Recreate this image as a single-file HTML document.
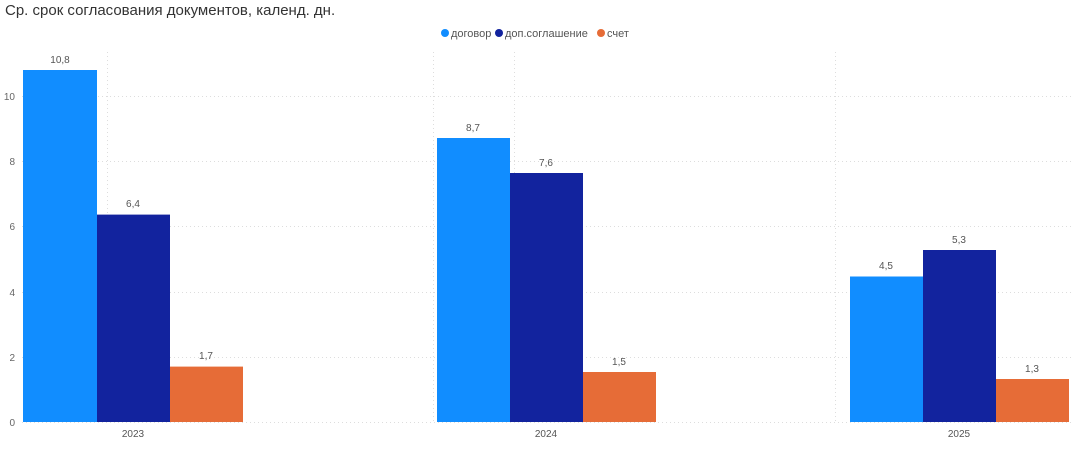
<!DOCTYPE html>
<html><head><meta charset="utf-8"><style>
body{margin:0;background:#fff;width:1073px;height:447px;overflow:hidden}
svg text{font-family:"Liberation Sans",sans-serif}
</style></head><body>
<svg width="1073" height="447" xmlns="http://www.w3.org/2000/svg">
<text x="5" y="15" font-size="15" fill="#333">Ср. срок согласования документов, календ. дн.</text>
<circle cx="445" cy="33" r="4" fill="#118dff"/><text x="451" y="37" font-size="11" fill="#555">договор</text>
<circle cx="499" cy="33" r="4" fill="#12239e"/><text x="505" y="37" font-size="11" fill="#555">доп.соглашение</text>
<circle cx="601" cy="33" r="4" fill="#e66c37"/><text x="607" y="37" font-size="11" fill="#555">счет</text>
<g stroke="#ddd" stroke-dasharray="1,3" stroke-width="1">
<line x1="22" x2="1073" y1="96.5" y2="96.5"/><line x1="22" x2="1073" y1="161.5" y2="161.5"/>
<line x1="22" x2="1073" y1="226.5" y2="226.5"/><line x1="22" x2="1073" y1="292.5" y2="292.5"/>
<line x1="22" x2="1073" y1="357.5" y2="357.5"/><line x1="22" x2="1073" y1="422.5" y2="422.5"/>
<line x1="107.5" x2="107.5" y1="52" y2="422"/><line x1="433.5" x2="433.5" y1="52" y2="422"/>
<line x1="514.5" x2="514.5" y1="52" y2="422"/><line x1="835.5" x2="835.5" y1="52" y2="422"/>
</g>
<g font-size="10" fill="#666" text-anchor="end">
<text x="15" y="426">0</text><text x="15" y="361">2</text><text x="15" y="296">4</text>
<text x="15" y="230">6</text><text x="15" y="165">8</text><text x="15" y="100">10</text>
</g>
<g>
<rect x="23" y="70" width="74" height="352" fill="#118dff"/>
<rect x="97" y="214.6" width="73" height="207.4" fill="#12239e"/>
<rect x="170" y="366.6" width="73" height="55.4" fill="#e66c37"/>
<rect x="437" y="138" width="73" height="284" fill="#118dff"/>
<rect x="510" y="173" width="73" height="249" fill="#12239e"/>
<rect x="583" y="372" width="73" height="50" fill="#e66c37"/>
<rect x="850" y="276.5" width="73" height="145.5" fill="#118dff"/>
<rect x="923" y="250" width="73" height="172" fill="#12239e"/>
<rect x="996" y="379" width="73" height="43" fill="#e66c37"/>
</g>
<g font-size="10" fill="#555" text-anchor="middle">
<text x="60" y="63">10,8</text><text x="133" y="207">6,4</text><text x="206" y="359">1,7</text>
<text x="473" y="131">8,7</text><text x="546" y="166">7,6</text><text x="619" y="365">1,5</text>
<text x="886" y="269">4,5</text><text x="959" y="243">5,3</text><text x="1032" y="372">1,3</text>
<text x="133" y="437">2023</text><text x="546" y="437">2024</text><text x="959" y="437">2025</text>
</g>
</svg>
</body></html>
